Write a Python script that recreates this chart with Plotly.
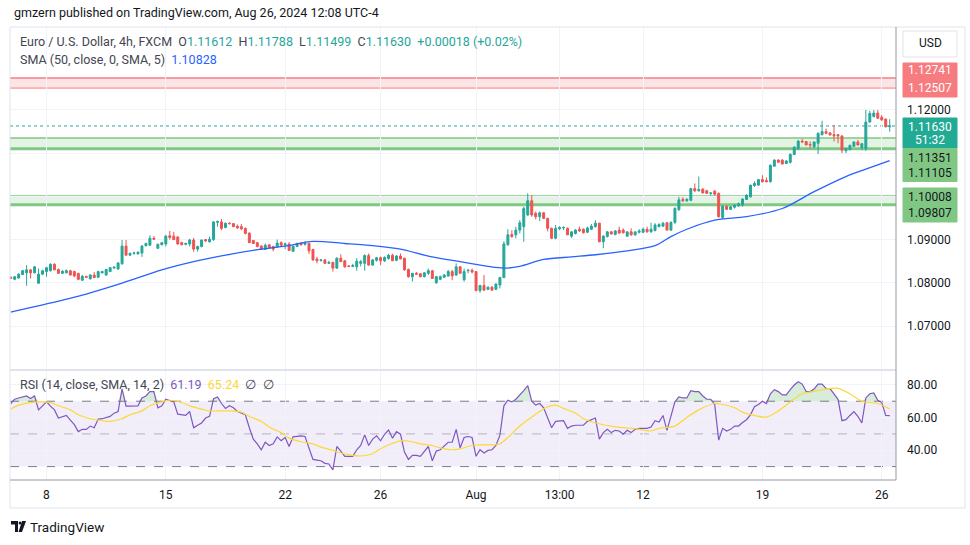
import numpy as np
import pandas as pd
import plotly.graph_objects as go

# 4h bars, EUR/USD (FXCM), Jul 4 - Aug 26 2024
opens = [1.0813, 1.0808, 1.0811, 1.0819, 1.0823, 1.0830, 1.0823, 1.0799, 1.0820, 1.0826,
         1.0828, 1.0843, 1.0831, 1.0822, 1.0823, 1.0828, 1.0826, 1.0822, 1.0806, 1.0815,
         1.0809, 1.0818, 1.0813, 1.0823, 1.0818, 1.0826, 1.0834, 1.0832, 1.0844, 1.0885,
         1.0864, 1.0868, 1.0867, 1.0869, 1.0886, 1.0887, 1.0903, 1.0880, 1.0888,
         1.0890, 1.0909, 1.0908, 1.0906, 1.0893, 1.0889, 1.0890, 1.0899, 1.0878, 1.0884, 1.0900,
         1.0895, 1.0900, 1.0940, 1.0941, 1.0928, 1.0938, 1.0937, 1.0931, 1.0930, 1.0926,
         1.0915, 1.0898, 1.0893, 1.0885, 1.0877, 1.0888, 1.0884, 1.0883, 1.0893, 1.0888,
         1.0890, 1.0873, 1.0884, 1.0892, 1.0889, 1.0891, 1.0877,
         1.0855, 1.0852, 1.0853, 1.0845, 1.0847, 1.0834, 1.0857, 1.0851, 1.0839, 1.0838,
         1.0837, 1.0845, 1.0845, 1.0863, 1.0841, 1.0852, 1.0858, 1.0851, 1.0856, 1.0864,
         1.0852, 1.0862, 1.0857, 1.0831, 1.0814, 1.0822, 1.0821, 1.0814, 1.0822, 1.0828,
         1.0800, 1.0808, 1.0813, 1.0816, 1.0826, 1.0818, 1.0837, 1.0807, 1.0828, 1.0829,
         1.0826, 1.0782, 1.0794, 1.0785, 1.0790, 1.0785, 1.0795, 1.0812, 1.0888,
         1.0912, 1.0911, 1.0922, 1.0930, 1.0957, 1.0990, 1.0961, 1.0953, 1.0962, 1.0949,
         1.0926, 1.0903, 1.0925, 1.0927, 1.0926, 1.0908, 1.0914, 1.0924, 1.0924, 1.0917,
         1.0924, 1.0930, 1.0938, 1.0895, 1.0907, 1.0918, 1.0912, 1.0922, 1.0922, 1.0908,
         1.0918, 1.0911, 1.0917, 1.0917, 1.0924, 1.0918, 1.0921, 1.0930, 1.0931, 1.0939, 1.0922,
         1.0940, 1.0969, 1.0993, 1.0990, 1.0991, 1.1018, 1.1013, 1.1017, 1.1013, 1.1007,
         1.1012, 1.1007, 1.0951, 1.0977, 1.0970, 1.0975, 1.0978, 1.0980, 1.0993, 1.0999,
         1.1025, 1.1026, 1.1039, 1.1037, 1.1034, 1.1070, 1.1084, 1.1084, 1.1076, 1.1079,
         1.1097, 1.1111, 1.1128, 1.1127, 1.1120, 1.1115, 1.1123, 1.1143, 1.1150, 1.1147,
         1.1143, 1.1143, 1.1140, 1.1106, 1.1108, 1.1116, 1.1126, 1.1113, 1.1111, 1.1172,
         1.1185, 1.1193, 1.1183, 1.1179, 1.11612]

highs = [1.0815, 1.0816, 1.0822, 1.0830, 1.0841, 1.0831, 1.0839, 1.0833, 1.0830, 1.0837,
         1.0845, 1.0845, 1.0833, 1.0829, 1.0831, 1.0830, 1.0828, 1.0823, 1.0818, 1.0816,
         1.0820, 1.0825, 1.0828, 1.0828, 1.0832, 1.0836, 1.0838, 1.0848, 1.0899, 1.0899,
         1.0870, 1.0872, 1.0872, 1.0887, 1.0893, 1.0910, 1.0908, 1.0891, 1.0894,
         1.0911, 1.0920, 1.0918, 1.0908, 1.0895, 1.0893, 1.0902, 1.0904, 1.0886, 1.0900, 1.0901,
         1.0907, 1.0942, 1.0944, 1.0948, 1.0939, 1.0940, 1.0938, 1.0935, 1.0936, 1.0928,
         1.0917, 1.0899, 1.0894, 1.0887, 1.0891, 1.0889, 1.0886, 1.0900, 1.0896, 1.0893,
         1.0894, 1.0885, 1.0893, 1.0894, 1.0896, 1.0893, 1.0879,
         1.0860, 1.0855, 1.0855, 1.0851, 1.0849, 1.0859, 1.0866, 1.0853, 1.0841, 1.0844,
         1.0857, 1.0853, 1.0866, 1.0868, 1.0855, 1.0860, 1.0861, 1.0861, 1.0867, 1.0867,
         1.0864, 1.0868, 1.0858, 1.0833, 1.0823, 1.0825, 1.0822, 1.0825, 1.0833, 1.0830,
         1.0816, 1.0817, 1.0820, 1.0830, 1.0830, 1.0845, 1.0839, 1.0833, 1.0832, 1.0833,
         1.0827, 1.0795, 1.0818, 1.0791, 1.0792, 1.0799, 1.0814, 1.0896, 1.0924,
         1.0922, 1.0930, 1.0945, 1.0976, 1.1007, 1.1003, 1.0965, 1.0965, 1.0964, 1.0951,
         1.0928, 1.0934, 1.0931, 1.0931, 1.0928, 1.0919, 1.0924, 1.0930, 1.0926, 1.0930,
         1.0936, 1.0945, 1.0939, 1.0910, 1.0920, 1.0920, 1.0922, 1.0930, 1.0926, 1.0918,
         1.0926, 1.0918, 1.0924, 1.0928, 1.0930, 1.0939, 1.0938, 1.0938, 1.0941, 1.0941, 1.0942,
         1.0975, 1.0999, 1.0998, 1.0996, 1.1020, 1.1030, 1.1046, 1.1019, 1.1015, 1.1009,
         1.1015, 1.1009, 1.0980, 1.0979, 1.0978, 1.0982, 1.0986, 1.0995, 1.1005, 1.1027,
         1.1035, 1.1040, 1.1049, 1.1044, 1.1074, 1.1086, 1.1086, 1.1086, 1.1084, 1.1100,
         1.1116, 1.1131, 1.1133, 1.1128, 1.1127, 1.1127, 1.1148, 1.1175, 1.1157, 1.1149,
         1.1165, 1.1144, 1.1141, 1.1112, 1.1120, 1.1127, 1.1131, 1.1123, 1.1200, 1.1198,
         1.1200, 1.1200, 1.1188, 1.1180, 1.11788]

lows = [1.0809, 1.0806, 1.0810, 1.0818, 1.0793, 1.0810, 1.0822, 1.0798, 1.0818, 1.0814,
        1.0826, 1.0829, 1.0821, 1.0821, 1.0822, 1.0817, 1.0813, 1.0806, 1.0804, 1.0811,
        1.0808, 1.0811, 1.0811, 1.0822, 1.0816, 1.0825, 1.0833, 1.0830, 1.0842, 1.0863,
        1.0862, 1.0865, 1.0865, 1.0860, 1.0884, 1.0886, 1.0899, 1.0878, 1.0887,
        1.0884, 1.0900, 1.0899, 1.0888, 1.0887, 1.0887, 1.0884, 1.0872, 1.0872, 1.0882, 1.0895,
        1.0893, 1.0897, 1.0930, 1.0922, 1.0926, 1.0935, 1.0929, 1.0925, 1.0922, 1.0912,
        1.0892, 1.0890, 1.0882, 1.0876, 1.0876, 1.0880, 1.0873, 1.0882, 1.0886, 1.0878,
        1.0874, 1.0872, 1.0883, 1.0886, 1.0886, 1.0867, 1.0851,
        1.0845, 1.0849, 1.0844, 1.0844, 1.0826, 1.0832, 1.0849, 1.0835, 1.0836, 1.0836,
        1.0828, 1.0838, 1.0828, 1.0840, 1.0840, 1.0849, 1.0841, 1.0848, 1.0854, 1.0851,
        1.0850, 1.0855, 1.0828, 1.0812, 1.0803, 1.0818, 1.0813, 1.0813, 1.0818, 1.0809,
        1.0798, 1.0806, 1.0811, 1.0814, 1.0806, 1.0816, 1.0822, 1.0803, 1.0822, 1.0822,
        1.0780, 1.0777, 1.0782, 1.0783, 1.0782, 1.0783, 1.0787, 1.0811, 1.0886,
        1.0904, 1.0903, 1.0914, 1.0895, 1.0955, 1.0953, 1.0947, 1.0943, 1.0949, 1.0919,
        1.0901, 1.0901, 1.0922, 1.0922, 1.0911, 1.0904, 1.0912, 1.0918, 1.0914, 1.0915,
        1.0922, 1.0928, 1.0894, 1.0880, 1.0905, 1.0912, 1.0910, 1.0913, 1.0914, 1.0907,
        1.0909, 1.0909, 1.0914, 1.0915, 1.0916, 1.0916, 1.0919, 1.0928, 1.0930, 1.0921, 1.0920,
        1.0936, 1.0967, 1.0987, 1.0987, 1.0989, 1.1010, 1.1011, 1.1007, 1.1006, 1.1002,
        1.1002, 1.0951, 1.0948, 1.0969, 1.0969, 1.0972, 1.0976, 1.0976, 1.0992, 1.0997,
        1.1022, 1.1025, 1.1032, 1.1032, 1.1032, 1.1069, 1.1078, 1.1074, 1.1075, 1.1076,
        1.1096, 1.1107, 1.1125, 1.1119, 1.1111, 1.1111, 1.1098, 1.1141, 1.1144, 1.1142,
        1.1127, 1.1123, 1.1100, 1.1100, 1.1107, 1.1115, 1.1118, 1.1107, 1.1105, 1.1171,
        1.1183, 1.1179, 1.1175, 1.1160, 1.11499]

closes = [1.0810, 1.0814, 1.0820, 1.0828, 1.0830, 1.0823, 1.0837, 1.0820, 1.0828, 1.0835,
          1.0843, 1.0830, 1.0822, 1.0827, 1.0828, 1.0818, 1.0816, 1.0808, 1.0815, 1.0813,
          1.0818, 1.0812, 1.0826, 1.0826, 1.0831, 1.0835, 1.0836, 1.0846, 1.0885, 1.0864,
          1.0868, 1.0869, 1.0871, 1.0885, 1.0891, 1.0903, 1.0901, 1.0889, 1.0893,
          1.0908, 1.0905, 1.0900, 1.0890, 1.0888, 1.0891, 1.0899, 1.0878, 1.0884, 1.0899, 1.0897,
          1.0901, 1.0941, 1.0942, 1.0926, 1.0938, 1.0937, 1.0930, 1.0927, 1.0925, 1.0914,
          1.0893, 1.0891, 1.0884, 1.0877, 1.0887, 1.0880, 1.0878, 1.0892, 1.0887, 1.0890,
          1.0875, 1.0885, 1.0891, 1.0888, 1.0892, 1.0874, 1.0853,
          1.0851, 1.0853, 1.0845, 1.0847, 1.0834, 1.0857, 1.0849, 1.0837, 1.0838, 1.0840,
          1.0850, 1.0849, 1.0863, 1.0841, 1.0853, 1.0858, 1.0851, 1.0859, 1.0864, 1.0851,
          1.0862, 1.0855, 1.0830, 1.0814, 1.0822, 1.0820, 1.0814, 1.0823, 1.0828, 1.0810,
          1.0814, 1.0814, 1.0818, 1.0826, 1.0816, 1.0837, 1.0822, 1.0826, 1.0829, 1.0825,
          1.0782, 1.0794, 1.0783, 1.0790, 1.0783, 1.0797, 1.0812, 1.0890, 1.0911,
          1.0907, 1.0922, 1.0939, 1.0972, 1.0990, 1.0957, 1.0953, 1.0962, 1.0949, 1.0926,
          1.0903, 1.0926, 1.0928, 1.0928, 1.0911, 1.0918, 1.0922, 1.0920, 1.0916, 1.0927,
          1.0931, 1.0938, 1.0895, 1.0908, 1.0918, 1.0913, 1.0920, 1.0915, 1.0916, 1.0918,
          1.0911, 1.0918, 1.0920, 1.0924, 1.0918, 1.0924, 1.0934, 1.0935, 1.0938, 1.0922, 1.0940,
          1.0972, 1.0992, 1.0990, 1.0993, 1.1018, 1.1013, 1.1016, 1.1008, 1.1007, 1.1008,
          1.1005, 1.0953, 1.0977, 1.0970, 1.0976, 1.0980, 1.0983, 1.0994, 1.1003, 1.1026,
          1.1030, 1.1039, 1.1034, 1.1034, 1.1072, 1.1084, 1.1079, 1.1075, 1.1082, 1.1097,
          1.1114, 1.1128, 1.1126, 1.1119, 1.1119, 1.1126, 1.1146, 1.1150, 1.1146, 1.1142,
          1.1140, 1.1140, 1.1107, 1.1111, 1.1118, 1.1126, 1.1119, 1.1122, 1.1172, 1.1192,
          1.1193, 1.1181, 1.1177, 1.1161, 1.11630]

# SMA(50) at some bars (bar number, value)
sma_bars = [0, 9, 19, 28, 38, 46, 54, 63, 69, 76, 84, 91, 98, 105, 113, 120, 124, 128,
            134, 141, 147, 155, 162, 166, 170, 177, 185, 194, 202, 210, 215, 221]
sma_vals = [1.0732, 1.0751, 1.0774, 1.0799, 1.0830, 1.0849, 1.0864, 1.0878, 1.0885, 1.0896,
            1.0891, 1.0886, 1.0878, 1.0862, 1.0849, 1.0838, 1.0834, 1.0838, 1.0854, 1.0860,
            1.0865, 1.0874, 1.0886, 1.0907, 1.0924, 1.0945, 1.0953, 1.0972, 1.1011, 1.1046,
            1.1063, 1.10828]

# RSI(14) per bar
rsi = [68.6, 71.2, 72.0, 72.6, 73.2, 71.6, 73.2, 64.7, 67.2, 69.6,
       67.0, 64.7, 59.7, 60.7, 61.3, 58.5, 55.7, 51.4, 52.8, 52.8,
       54.8, 53.8, 59.1, 59.3, 60.0, 60.7, 62.7, 63.7, 77.5, 67.0,
       67.0, 67.1, 67.2, 72.0, 73.2, 75.9, 75.9, 66.0, 67.2, 71.2,
       70.6, 69.6, 62.1, 61.7, 61.3, 63.7, 53.8, 55.3, 56.7, 59.7,
       60.7, 71.6, 72.6, 68.6, 65.6, 67.2, 66.0, 63.7, 62.5, 61.7,
       53.8, 46.8, 43.9, 40.3, 44.9, 42.9, 43.9, 48.2, 45.8, 47.8,
       42.3, 48.2, 48.5, 48.8, 48.4, 41.9, 34.4, 34.0, 33.6, 32.0,
       31.6, 28.0, 42.3, 39.5, 36.3, 36.3, 36.3, 40.3, 42.9, 49.4,
       42.9, 46.8, 48.8, 45.8, 49.8, 52.4, 47.4, 51.4, 49.8, 38.9,
       34.4, 36.9, 36.9, 36.3, 39.5, 42.3, 33.6, 39.5, 40.3, 42.9,
       44.9, 44.9, 52.8, 41.5, 47.8, 48.4, 47.8, 36.3, 40.3, 38.3,
       39.9, 40.3, 42.9, 49.2, 67.2, 70.6, 69.6, 71.2, 73.6, 76.5,
       79.5, 70.0, 67.6, 68.6, 66.0, 59.7, 53.8, 57.7, 58.1, 58.1,
       53.4, 54.8, 55.3, 55.3, 55.3, 57.7, 58.7, 59.7, 46.8, 50.8,
       52.8, 50.8, 52.2, 51.8, 49.8, 52.2, 50.8, 52.8, 53.4, 53.4,
       53.4, 54.2, 58.1, 57.3, 61.3, 52.2, 61.7, 69.6, 72.6, 72.0,
       72.0, 76.5, 75.9, 75.9, 73.2, 71.2, 71.2, 68.0, 46.2, 53.4,
       51.8, 52.8, 54.8, 54.8, 57.0, 58.7, 61.7, 66.6, 68.0, 70.0,
       68.6, 74.6, 77.1, 75.9, 73.9, 73.9, 77.1, 79.9, 81.9, 80.5,
       75.9, 75.9, 77.5, 80.5, 80.5, 77.9, 77.7, 74.6, 71.2, 58.1,
       58.7, 61.3, 63.7, 60.7, 56.7, 72.0, 74.6, 75.1, 70.6, 69.2,
       61.3, 61.19]

# SMA(14) of RSI, read at some bars
rsi_ma_bars = [0, 2, 5, 7, 10, 12, 15, 17, 20, 23, 25, 28, 30, 33, 35, 38, 40, 43, 45, 48,
               50, 53, 55, 58, 60, 63, 65, 68, 70, 73, 76, 78, 81, 83, 86, 88, 91, 93, 96, 98,
               101, 103, 106, 108, 111, 113, 116, 118, 121, 123, 125, 128, 132, 135, 137, 139,
               142, 144, 147, 151, 154, 157, 161, 163, 167, 170, 173, 177, 179, 182, 184, 187,
               190, 193, 196, 199, 203, 206, 208, 211, 214, 218, 221]
rsi_ma = [65.2, 67.6, 69.2, 69.6, 69.2, 67.2, 64.7, 61.7, 59.3, 58.1, 57.7, 59.3, 61.7, 64.1,
          67.2, 69.6, 70.6, 69.2, 67.2, 65.2, 64.1, 64.1, 64.1, 63.3, 60.7, 57.7, 54.2, 50.8,
          47.4, 45.2, 43.9, 41.9, 39.9, 38.3, 36.9, 36.5, 37.9, 40.9, 44.3, 45.8, 45.2, 43.9,
          42.9, 41.5, 40.3, 40.9, 42.9, 43.3, 43.3, 43.9, 47.8, 54.8, 62.1, 66.6, 67.6, 65.6,
          62.7, 59.3, 56.7, 54.8, 53.8, 53.2, 51.8, 53.4, 54.8, 60.1, 64.7, 68.6, 68.0, 66.0,
          63.3, 61.3, 60.3, 64.1, 69.6, 74.6, 76.5, 77.9, 77.9, 74.6, 70.0, 68.6, 65.24]

# horizontal zones drawn on the chart
zone_lo = [1.12507, 1.11105, 1.09807]
zone_hi = [1.12741, 1.11351, 1.10008]

price_ticks = [1.07, 1.08, 1.09, 1.10, 1.11, 1.12]
price_labels = ["1.07000", "1.08000", "1.09000", "", "", "1.12000"]
rsi_ticks = [40, 60, 80]
rsi_labels = ["40.00", "60.00", "80.00"]
x_ticks = ["2024-07-08", "2024-07-15", "2024-07-22", "2024-07-26", "2024-08-01",
           "2024-08-06 12:00", "2024-08-12", "2024-08-19", "2024-08-26"]
x_labels = ["8", "15", "22", "26", "Aug", "13:00", "12", "19", "26"]

# bar times: 4h bars on weekdays only
allbars = pd.date_range("2024-07-04 12:00", "2024-08-26 08:00", freq="4h")
dates = [d for d in allbars if d.weekday() < 5]

UP = "#26a69a"
DOWN = "#ef5350"
FONT = "Roboto"
TXT = "#131722"


# pixel -> paper helpers (plot area is x 10..896, y 27..480 in a 970x545 page)
def fx(px):
    return (px - 10) / 886


def fy(py):
    return (480 - py) / 453


fig = go.Figure()

fig.add_trace(go.Candlestick(
    x=dates, open=opens, high=highs, low=lows, close=closes,
    increasing=dict(line=dict(color=UP, width=1), fillcolor=UP),
    decreasing=dict(line=dict(color=DOWN, width=1), fillcolor=DOWN),
    whiskerwidth=0, hoverinfo="skip", xaxis="x", yaxis="y"))

fig.add_trace(go.Scatter(
    x=[dates[i] for i in sma_bars], y=sma_vals, mode="lines",
    line=dict(color="#2962ff", width=1.3, shape="spline", smoothing=0.8),
    hoverinfo="skip", xaxis="x", yaxis="y"))

# RSI overbought fill
rsi_arr = np.array(rsi)
fig.add_trace(go.Scatter(x=dates, y=[70] * len(dates), mode="lines",
                         line=dict(width=0), hoverinfo="skip", xaxis="x2", yaxis="y2"))
fig.add_trace(go.Scatter(x=dates, y=np.maximum(rsi_arr, 70), mode="lines",
                         line=dict(width=0), fill="tonexty",
                         fillcolor="rgba(76,175,80,0.22)",
                         hoverinfo="skip", xaxis="x2", yaxis="y2"))
fig.add_trace(go.Scatter(x=dates, y=rsi, mode="lines",
                         line=dict(color="#7e57c2", width=1.2),
                         hoverinfo="skip", xaxis="x2", yaxis="y2"))
fig.add_trace(go.Scatter(x=[dates[i] for i in rsi_ma_bars], y=rsi_ma, mode="lines",
                         line=dict(color="#fdd835", width=1.2, shape="spline", smoothing=0.8),
                         hoverinfo="skip", xaxis="x2", yaxis="y2"))

shapes = []
# zones
zone_fill = ["rgba(247,124,128,0.2)", "rgba(129,199,132,0.22)", "rgba(129,199,132,0.22)"]
zone_line = ["#f77c80", "#81c784", "#81c784"]
zone_bottom_w = [1, 3, 3]
for lo, hi, fc, lc, bw in zip(zone_lo, zone_hi, zone_fill, zone_line, zone_bottom_w):
    shapes.append(dict(type="rect", xref="paper", yref="y", x0=0, x1=1, y0=lo, y1=hi,
                       fillcolor=fc, line=dict(width=0), layer="between"))
    shapes.append(dict(type="line", xref="paper", yref="y", x0=0, x1=1, y0=hi, y1=hi,
                       line=dict(color=lc, width=1.5), layer="between"))
    shapes.append(dict(type="line", xref="paper", yref="y", x0=0, x1=1, y0=lo, y1=lo,
                       line=dict(color=lc, width=bw), layer="between"))

# last price dotted line
shapes.append(dict(type="line", xref="paper", yref="y", x0=0, x1=1,
                   y0=closes[-1], y1=closes[-1],
                   line=dict(color=UP, width=1, dash="dot"), layer="between"))

# RSI band and levels
shapes.append(dict(type="rect", xref="paper", yref="y2", x0=0, x1=1, y0=30, y1=70,
                   fillcolor="rgba(126,87,194,0.1)", line=dict(width=0), layer="between"))
for lvl, col in [(70, "#787b86"), (50, "rgba(120,123,134,0.5)"), (30, "#787b86")]:
    shapes.append(dict(type="line", xref="paper", yref="y2", x0=0, x1=1, y0=lvl, y1=lvl,
                       line=dict(color=col, width=1, dash="dash"), layer="between"))

# frame, pane separator, axis line
frame = "#e0e3eb"
shapes.append(dict(type="rect", xref="paper", yref="paper", x0=fx(10), x1=fx(965),
                   y0=fy(508), y1=fy(27), line=dict(color=frame, width=1)))
shapes.append(dict(type="line", xref="paper", yref="paper", x0=0, x1=1,
                   y0=fy(370), y1=fy(370), line=dict(color=frame, width=2)))
shapes.append(dict(type="line", xref="paper", yref="paper", x0=1, x1=1,
                   y0=fy(480), y1=fy(27), line=dict(color="#9598a1", width=1)))
shapes.append(dict(type="line", xref="paper", yref="paper", x0=0, x1=1,
                   y0=0, y1=0, line=dict(color="#9598a1", width=1)))

# price label boxes on the right scale
boxes = [(31, 57, "white", "#e0e3eb"), (63, 97, "#f77c80", "#f77c80"),
         (118, 148, "#22ab94", "#22ab94"), (148.5, 181.5, "#81c784", "#81c784"),
         (188, 222, "#81c784", "#81c784")]
for top, bot, fc, lc in boxes:
    shapes.append(dict(type="rect", xref="paper", yref="paper", x0=fx(903), x1=fx(957),
                       y0=fy(bot), y1=fy(top), fillcolor=fc, line=dict(color=lc, width=1),
                       layer="above"))

# TradingView logo mark
shapes.append(dict(type="path", xref="paper", yref="paper", fillcolor=TXT, line=dict(width=0),
                   path="M %f %f L %f %f L %f %f L %f %f L %f %f L %f %f Z" % (
                       fx(11), fy(521), fx(18), fy(521), fx(18), fy(532),
                       fx(15), fy(532), fx(15), fy(524.5), fx(11), fy(524.5))))
shapes.append(dict(type="circle", xref="paper", yref="paper", fillcolor=TXT, line=dict(width=0),
                   x0=fx(18.6), x1=fx(21.4), y0=fy(524.5), y1=fy(521.5)))
shapes.append(dict(type="path", xref="paper", yref="paper", fillcolor=TXT, line=dict(width=0),
                   path="M %f %f L %f %f L %f %f L %f %f Z" % (
                       fx(22), fy(521), fx(26), fy(521), fx(22), fy(532), fx(18.5), fy(532))))

NB = "\u00a0"
ann = []


def label(x, y, text, size=12, color=TXT, xanchor="left"):
    ann.append(dict(xref="paper", yref="paper", x=x, y=y, text=text, showarrow=False,
                    xanchor=xanchor, yanchor="middle", font=dict(family=FONT, size=size, color=color)))


def val(t, c):
    return "<span style='color:%s'>%s</span>" % (c, t)


label(fx(12), fy(12), "gmzern published on TradingView.com, Aug 26, 2024 12:08 UTC-4", 12.5)
label(fx(18), fy(42),
      "Euro / U.S. Dollar, 4h, FXCM" + NB * 2 + "O" + val("1.11612", UP) + NB * 2 + "H" + val("1.11788", UP)
      + NB * 2 + "L" + val("1.11499", UP) + NB * 2 + "C" + val("1.11630", UP) + NB * 2
      + val("+0.00018 (+0.02%)", UP), 12.5, "#434651")
label(fx(18), fy(59), "SMA (50, close, 0, SMA, 5)" + NB * 2 + val("1.10828", "#2962ff"), 12.5, "#434651")
label(fx(18), fy(384), "RSI (14, close, SMA, 14, 2)" + NB * 2 + val("61.19", "#7e57c2") + NB * 2
      + val("65.24", "#fdd835") + NB * 2 + "∅" + NB * 2 + "∅", 12.5, "#434651")

# right scale texts
cx = fx(930)
label(cx, fy(43.5), "USD", 12, TXT, "center")
label(cx, fy(70), "1.12741", 12, "white", "center")
label(cx, fy(87.5), "1.12507", 12, "white", "center")
label(cx, fy(126.5), "1.11630", 12, "white", "center")
label(cx, fy(140), "51:32", 12, "white", "center")
label(cx, fy(157.5), "1.11351", 12, TXT, "center")
label(cx, fy(173), "1.11105", 12, TXT, "center")
label(cx, fy(197), "1.10008", 12, TXT, "center")
label(cx, fy(212.5), "1.09807", 12, TXT, "center")

label(fx(28), fy(527), "TradingView", 13.5, TXT)

breaks = [dict(bounds=["sat", "mon"])]
xrange = ["2024-07-04 11:18", "2024-08-26 14:20"]

fig.update_layout(
    width=970, height=545,
    margin=dict(l=10, r=74, t=27, b=65),
    paper_bgcolor="white", plot_bgcolor="white",
    showlegend=False,
    font=dict(family=FONT, size=12, color=TXT),
    xaxis=dict(domain=[0, 1], anchor="y", type="date", range=xrange, rangebreaks=breaks,
               tickvals=x_ticks, showticklabels=False, showgrid=True, gridcolor="#f0f3fa",
               zeroline=False, rangeslider=dict(visible=False), fixedrange=True),
    xaxis2=dict(domain=[0, 1], anchor="y2", matches="x", type="date", range=xrange,
                rangebreaks=breaks, tickvals=x_ticks, ticktext=x_labels,
                showgrid=True, gridcolor="#f0f3fa", zeroline=False, ticks="",
                ticklabelstandoff=6, tickfont=dict(family=FONT, size=12, color=TXT)),
    yaxis=dict(domain=[fy(369), 1], anchor="x", side="right", range=[1.06005, 1.13921],
               tickvals=price_ticks, ticktext=price_labels, showgrid=True, gridcolor="#f0f3fa",
               zeroline=False, ticklabelstandoff=10, tickfont=dict(family=FONT, size=12, color=TXT)),
    yaxis2=dict(domain=[0, fy(371)], anchor="x2", side="right", range=[21.8, 88.5],
                tickvals=rsi_ticks, ticktext=rsi_labels, showgrid=True, gridcolor="#f0f3fa",
                zeroline=False, ticklabelstandoff=10, tickfont=dict(family=FONT, size=12, color=TXT)),
    shapes=shapes,
    annotations=ann,
)

# the page's default body margin would push the figure 8px down and right
fig.write_html("out.html", config={"displayModeBar": False},
               post_script="document.body.style.margin='0px';")
